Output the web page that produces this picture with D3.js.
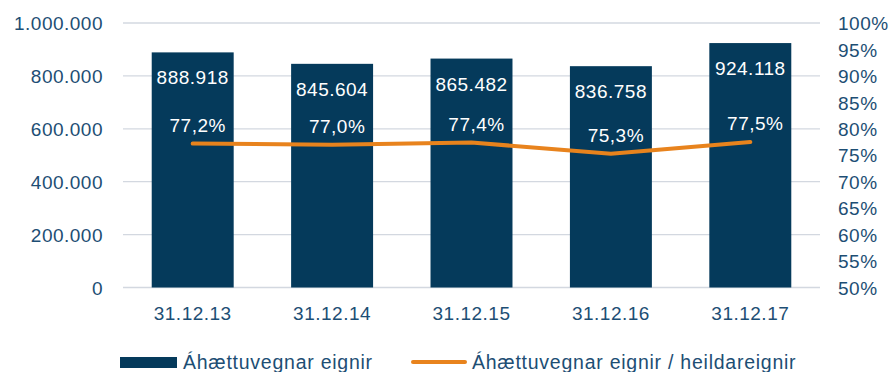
<!DOCTYPE html>
<html>
<head>
<meta charset="utf-8">
<script src="https://cdn.jsdelivr.net/npm/d3@7"></script>
<style>
  html, body { margin: 0; padding: 0; background: #ffffff; }
  svg { display: block; }
  text { font-family: "Liberation Sans", Arial, sans-serif; }
</style>
</head>
<body>
<svg id="chart" width="892" height="372"></svg>
<script>
// Dates of the year-end statements
const categories = ["31.12.13", "31.12.14", "31.12.15", "31.12.16", "31.12.17"];
// Risk-weighted assets (bars, left axis)
const riskWeighted = [888918, 845604, 865482, 836758, 924118];
// Risk-weighted assets as share of total assets, % (line, right axis)
const ratioPct = [77.2, 77.0, 77.4, 75.3, 77.5];
// Axis ticks
const leftTicks = [0, 200000, 400000, 600000, 800000, 1000000];
const rightTicks = [50, 55, 60, 65, 70, 75, 80, 85, 90, 95, 100];
// Legend entries
const legendBar = "Áhættuvegnar eignir";
const legendLine = "Áhættuvegnar eignir / heildareignir";

const navy = "#053a5b";
const orange = "#e8831d";
const textCol = "#1d4e74";
const gridCol = "#d3d8e0";
const fontSize = 19;

const svg = d3.select("#chart");
const plot = { left: 123, right: 820, top: 23, bottom: 287.5 };

const fmtNum = v => d3.format(",")(v).replace(/,/g, ".");
const fmtPct = v => v.toFixed(1).replace(".", ",") + "%";

const x = d3.scaleBand().domain(categories).range([plot.left, plot.right])
  .paddingInner(0.412).paddingOuter(0.206);
const yL = d3.scaleLinear().domain([0, 1000000]).range([plot.bottom, plot.top]);
const yR = d3.scaleLinear().domain([50, 100]).range([plot.bottom, plot.top]);

// Gridlines
svg.append("g").selectAll("line").data(leftTicks).join("line")
  .attr("x1", plot.left).attr("x2", plot.right)
  .attr("y1", d => yL(d)).attr("y2", d => yL(d))
  .attr("stroke", gridCol).attr("stroke-width", 1.3);

// Left axis
const axL = svg.append("g").attr("transform", `translate(${plot.left - 20},0)`)
  .call(d3.axisLeft(yL).tickValues(leftTicks).tickFormat(fmtNum).tickSize(0).tickPadding(0));
axL.select(".domain").remove();
axL.selectAll("text").attr("fill", textCol).style("font-size", fontSize + "px")
  .style("letter-spacing", "0.5px").attr("dy", "0.35em");

// Right axis
const axR = svg.append("g").attr("transform", `translate(${plot.right + 18},0)`)
  .call(d3.axisRight(yR).tickValues(rightTicks).tickFormat(d => d + "%").tickSize(0).tickPadding(0));
axR.select(".domain").remove();
axR.selectAll("text").attr("fill", textCol).style("font-size", fontSize + "px")
  .style("letter-spacing", "0.5px").attr("dy", "0.35em");

// Bottom axis
const axB = svg.append("g").attr("transform", `translate(0,${plot.bottom})`)
  .call(d3.axisBottom(x).tickSize(0).tickPadding(0));
axB.select(".domain").remove();
axB.selectAll("text").attr("fill", textCol).style("font-size", fontSize + "px")
  .style("letter-spacing", "0.5px").attr("dy", "0").attr("y", 32);

// Bars
svg.append("g").selectAll("rect").data(riskWeighted).join("rect")
  .attr("x", (d, i) => x(categories[i]))
  .attr("width", x.bandwidth())
  .attr("y", d => yL(d))
  .attr("height", d => yL(0) - yL(d))
  .attr("fill", navy);

// Bar value labels
svg.append("g").selectAll("text").data(riskWeighted).join("text")
  .attr("x", (d, i) => x(categories[i]) + x.bandwidth() / 2)
  .attr("y", d => yL(d) + 32)
  .attr("text-anchor", "middle")
  .attr("fill", "#ffffff")
  .style("font-size", fontSize + "px")
  .style("letter-spacing", "0.5px")
  .text(fmtNum);

// Ratio line
const cx = i => x(categories[i]) + x.bandwidth() / 2;
const line = d3.line().x((d, i) => cx(i)).y(d => yR(d));
svg.append("path").datum(ratioPct)
  .attr("d", line)
  .attr("fill", "none")
  .attr("stroke", orange)
  .attr("stroke-width", 4)
  .attr("stroke-linecap", "round")
  .attr("stroke-linejoin", "round");

// Ratio labels
svg.append("g").selectAll("text").data(ratioPct).join("text")
  .attr("x", (d, i) => cx(i) + 5)
  .attr("y", d => yR(d) - 12)
  .attr("text-anchor", "middle")
  .attr("fill", "#ffffff")
  .style("font-size", fontSize + "px")
  .style("letter-spacing", "0.5px")
  .text(fmtPct);

// Legend
const lg = svg.append("g");
lg.append("rect").attr("x", 120).attr("y", 357).attr("width", 57).attr("height", 11).attr("fill", navy);
lg.append("text").attr("x", 183).attr("y", 369).attr("fill", textCol)
  .style("font-size", "19.5px").style("letter-spacing", "0.75px").text(legendBar);
lg.append("line").attr("x1", 413).attr("x2", 465).attr("y1", 362).attr("y2", 362)
  .attr("stroke", orange).attr("stroke-width", 4).attr("stroke-linecap", "round");
lg.append("text").attr("x", 472).attr("y", 369).attr("fill", textCol)
  .style("font-size", "19.5px").style("letter-spacing", "0.75px").text(legendLine);
</script>
</body>
</html>
